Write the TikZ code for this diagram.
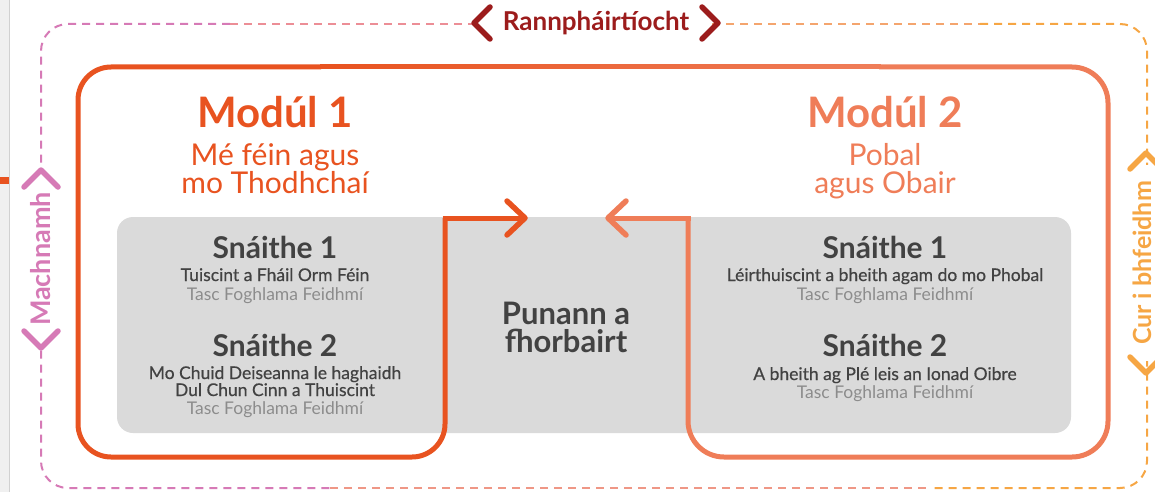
\documentclass[tikz,border=0pt]{standalone}
\usepackage{fontspec}
\setmainfont{Lato}
\newfontfamily\latomid[FakeBold=0.5]{Lato}
\usetikzlibrary{calc}
\usetikzlibrary{positioning}
\definecolor{vermilion}{RGB}{232, 83, 32}
\definecolor{coral}{RGB}{239, 125, 88}
\definecolor{orchid}{RGB}{214, 122, 182}
\definecolor{blush}{RGB}{236, 142, 150}
\definecolor{peach}{RGB}{244, 165, 110}
\definecolor{amber}{RGB}{246, 166, 68}
\definecolor{maroon}{RGB}{156, 28, 28}
\definecolor{charcoal}{RGB}{66, 66, 66}
\definecolor{ash}{RGB}{140, 140, 140}
\definecolor{mist}{RGB}{218, 218, 218}

\tikzset{
    modline/.style={line width=5pt},
    chevron/.style={line width=5.5pt, line cap=round, line join=round},
    border/.style={line width=2pt, dash pattern=on 8pt off 6pt, rounded corners=27pt},
    title/.style={font=\bfseries\fontsize{42}{42}\selectfont, anchor=base, inner sep=0pt},
    subtitle/.style={font=\fontsize{30}{30}\selectfont, anchor=base, inner sep=0pt},
    strand/.style={font=\bfseries\fontsize{30}{30}\selectfont, text=charcoal, anchor=base, inner sep=0pt},
    topic/.style={font=\latomid\fontsize{17.5}{17.5}\selectfont, text=charcoal, anchor=base, inner sep=0pt},
    task/.style={font=\fontsize{17.5}{17.5}\selectfont, text=ash, anchor=base, inner sep=0pt},
    tag/.style={font=\bfseries\fontsize{26}{26}\selectfont, fill=white, inner ysep=3pt},
}

\begin{document}
\begin{tikzpicture}[x=1pt, y=-1pt]
            \useasboundingbox (0,0) rectangle (1155,492);
            % window edge
            \fill[black!6]                 (0,0) rectangle (9,492);
            \draw[black!18, line width=1pt] (9,0) -- (9,492);
            \fill[vermilion]               (0,177) rectangle (9,184);

            % outer dashed frame
            \draw[border, orchid] (230,24) -- (41,24) -- (41,488) -- (330,488);
            \draw[border, blush]  (230,24) -- (600,24);
            \draw[border, peach]  (600,24) -- (980,24);
            \draw[border, amber]  (980,24) -- (1147,24) -- (1147,488) -- (930,488);
            \draw[border, blush!60!peach] (330,488) -- (930,488);

            % strands panel
            \fill[mist, rounded corners=16pt] (117,217) rectangle (1071,433);

            % module frames
            \coordinate (tipL) at (525,218);
            \coordinate (tipR) at (608,218);
            \draw[modline, vermilion, rounded corners=33pt] (445,218) -- (445,457) -- (78,457) -- (78,67) -- (321,67);
            \draw[modline, coral, rounded corners=36pt]     (688,218) -- (688,457) -- (1108,457) -- (1108,67) -- (879,67);
            \foreach \i in {0,...,27}
                \pgfmathsetmacro{\mix}{100-\i*100/27}
                \draw[modline, vermilion!\mix!coral] (320+20*\i,67) -- (341+20*\i,67);
            \draw[modline, vermilion] (442.5,218) -- (tipL);
            \draw[modline, coral]     (690.5,218) -- (tipR);
            \draw[chevron, vermilion] (507,201) -- (tipL) -- (507,235);
            \draw[chevron, coral]     (626,201) -- (tipR) -- (626,235);

            % module titles
            \node[title, text=vermilion]    (modone)   at (275,128) {Modúl 1};
            \node[subtitle, text=vermilion] (modonea)  at (275,165) {Mé féin agus};
            \node[subtitle, text=vermilion] (modoneb)  at (275,193) {mo Thodhchaí};
            \node[title, text=coral]        (modtwo)   at (885,128) {Modúl 2};
            \node[subtitle, text=coral]     (modtwoa)  at (885,165) {Pobal};
            \node[subtitle, text=coral]     (modtwob)  at (885,193) {agus Obair};

            % module 1 strands
            \node[strand] (oneA)      at (275,258) {Snáithe 1};
            \node[topic]  (oneAtopic) at (275,281) {Tuiscint a Fháil Orm Féin};
            \node[task]   (oneAtask)  at (275,300) {Tasc Foghlama Feidhmí};
            \node[strand] (oneB)      at (275,356) {Snáithe 2};
            \node[topic]  (oneBtopa)  at (275,379) {Mo Chuid Deiseanna le haghaidh};
            \node[topic]  (oneBtopb)  at (275,396) {Dul Chun Cinn a Thuiscint};
            \node[task]   (oneBtask)  at (275,414) {Tasc Foghlama Feidhmí};

            % module 2 strands
            \node[strand] (twoA)      at (885,258) {Snáithe 1};
            \node[topic]  (twoAtopic) at (885,281) {Léirthuiscint a bheith agam do mo Phobal};
            \node[task]   (twoAtask)  at (885,300) {Tasc Foghlama Feidhmí};
            \node[strand] (twoB)      at (885,356) {Snáithe 2};
            \node[topic]  (twoBtopic) at (885,380) {A bheith ag Plé leis an Ionad Oibre};
            \node[task]   (twoBtask)  at (885,398) {Tasc Foghlama Feidhmí};

            % portfolio
            \node[strand, font=\bfseries\fontsize{31}{31}\selectfont] (portfa) at (566,324) {Punann a};
            \node[strand, font=\bfseries\fontsize{31}{31}\selectfont] (portfb) at (566,352) {fhorbairt};

            % frame tags
            \node[tag, text=maroon, inner xsep=22pt]           (engage)  at (596,23)  {Rannpháirtíocht};
            \draw[chevron, maroon] (490,7) -- (474,23) -- (490,39);
            \draw[chevron, maroon] (702,7) -- (718,23) -- (702,39);
            \node[tag, text=orchid, rotate=90, inner xsep=22pt, font=\bfseries\fontsize{27}{27}\selectfont] (reflect) at (41,259) {Machnamh};
            \draw[chevron, orchid] (24,187) -- (41,170) -- (58,187);
            \draw[chevron, orchid] (24,331) -- (41,348) -- (58,331);
            \node[tag, text=amber, rotate=90, inner xsep=16pt, font=\bfseries\fontsize{25}{25}\selectfont] (apply) at (1142,263) {Cur i bhfeidhm};
            \draw[chevron, amber]  (1130,169) -- (1146,153) -- (1162,169);
            \draw[chevron, amber]  (1130,357) -- (1146,373) -- (1162,357);
\end{tikzpicture}
\end{document}
